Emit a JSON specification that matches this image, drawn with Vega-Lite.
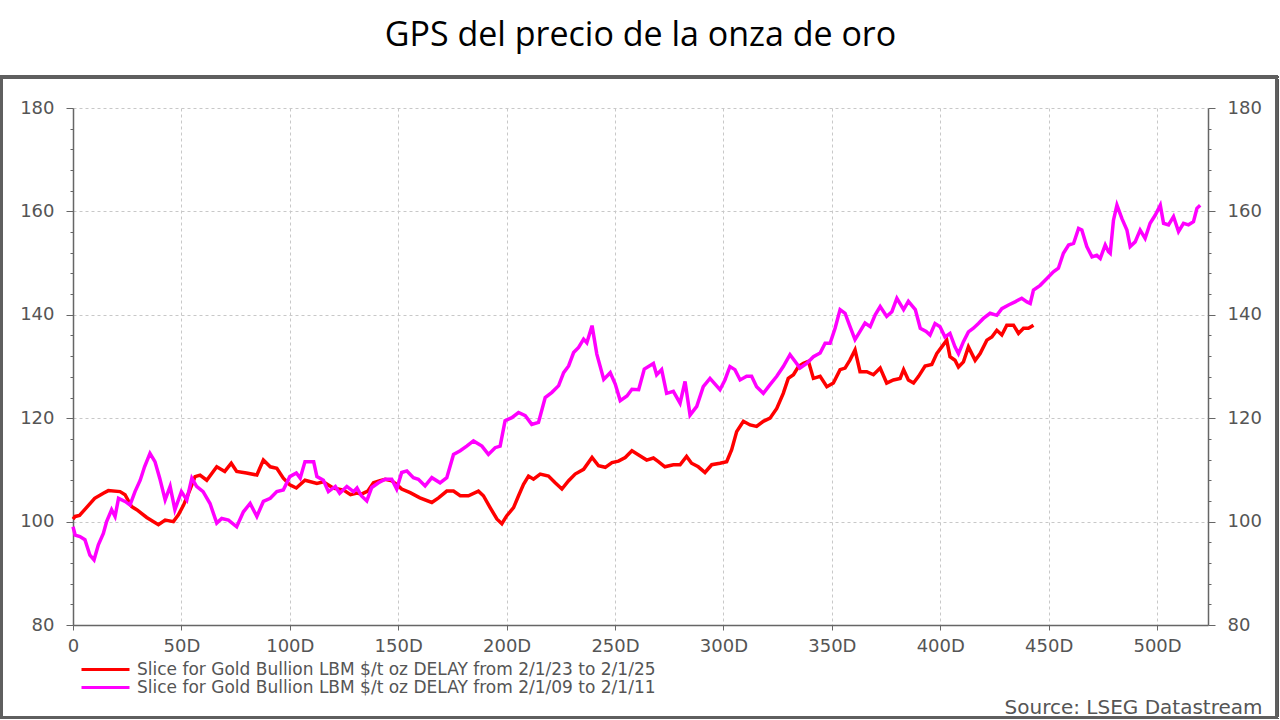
{
  "$schema": "https://vega.github.io/schema/vega-lite/v6.json",
  "width": 1135,
  "height": 517,
  "autosize": {"type": "none"},
  "padding": {"left": 73, "top": 108, "right": 72, "bottom": 95},
  "background": "white",
  "title": {
    "text": "GPS del precio de la onza de oro",
    "font": "Open Sans",
    "fontSize": 34,
    "fontWeight": "normal",
    "color": "#000000",
    "anchor": "middle",
    "frame": "group",
    "baseline": "alphabetic",
    "offset": 26,
    "dy": 31
  },
  "config": {
    "view": {"stroke": null},
    "axis": {
      "labelFont": "DejaVu Sans",
      "labelFontSize": 18,
      "labelColor": "#555555",
      "domainColor": "#666666",
      "domainWidth": 1.5,
      "tickColor": "#666666",
      "gridColor": "#c8c8c8",
      "gridDash": [3, 3]
    }
  },
  "data": {
    "values": [
      {"s": "A", "d": 0, "v": 100.5}, {"s": "A", "d": 1, "v": 101}, {"s": "A", "d": 3, "v": 101.2}, {"s": "A", "d": 6, "v": 102.6},
      {"s": "A", "d": 10, "v": 104.5}, {"s": "A", "d": 14, "v": 105.5}, {"s": "A", "d": 16.3, "v": 106}, {"s": "A", "d": 21.7, "v": 105.8},
      {"s": "A", "d": 24, "v": 105.2}, {"s": "A", "d": 27, "v": 102.9}, {"s": "A", "d": 29.4, "v": 102.3}, {"s": "A", "d": 34, "v": 100.8},
      {"s": "A", "d": 39.4, "v": 99.4}, {"s": "A", "d": 42.5, "v": 100.3}, {"s": "A", "d": 46.3, "v": 100}, {"s": "A", "d": 48.6, "v": 101.3},
      {"s": "A", "d": 51, "v": 103.2}, {"s": "A", "d": 53, "v": 105.2}, {"s": "A", "d": 56.3, "v": 108.7}, {"s": "A", "d": 58.6, "v": 109},
      {"s": "A", "d": 61.7, "v": 108}, {"s": "A", "d": 66.3, "v": 110.6}, {"s": "A", "d": 70, "v": 109.7}, {"s": "A", "d": 73, "v": 111.3},
      {"s": "A", "d": 75.5, "v": 109.7}, {"s": "A", "d": 80, "v": 109.4}, {"s": "A", "d": 84.8, "v": 109}, {"s": "A", "d": 87.8, "v": 111.9},
      {"s": "A", "d": 91, "v": 110.6}, {"s": "A", "d": 94, "v": 110.3}, {"s": "A", "d": 97, "v": 108.4}, {"s": "A", "d": 100, "v": 107.1},
      {"s": "A", "d": 103, "v": 106.5}, {"s": "A", "d": 107, "v": 108}, {"s": "A", "d": 112.5, "v": 107.4}, {"s": "A", "d": 115.5, "v": 107.7},
      {"s": "A", "d": 120, "v": 106.5}, {"s": "A", "d": 124.8, "v": 106.1}, {"s": "A", "d": 128, "v": 105.2}, {"s": "A", "d": 131, "v": 105.5},
      {"s": "A", "d": 133, "v": 105.3}, {"s": "A", "d": 136, "v": 105.9}, {"s": "A", "d": 138.6, "v": 107.5}, {"s": "A", "d": 141.6, "v": 107.9},
      {"s": "A", "d": 144, "v": 108.2}, {"s": "A", "d": 147, "v": 107.9}, {"s": "A", "d": 149.3, "v": 107.2}, {"s": "A", "d": 151.6, "v": 106.3},
      {"s": "A", "d": 155.5, "v": 105.6}, {"s": "A", "d": 160, "v": 104.6}, {"s": "A", "d": 165.5, "v": 103.7}, {"s": "A", "d": 168.6, "v": 104.6},
      {"s": "A", "d": 172.4, "v": 105.9}, {"s": "A", "d": 175.5, "v": 105.9}, {"s": "A", "d": 178.6, "v": 105}, {"s": "A", "d": 182.4, "v": 105},
      {"s": "A", "d": 187, "v": 105.9}, {"s": "A", "d": 189.3, "v": 105}, {"s": "A", "d": 192.4, "v": 102.7}, {"s": "A", "d": 195.5, "v": 100.5},
      {"s": "A", "d": 197.8, "v": 99.6}, {"s": "A", "d": 200, "v": 101.1}, {"s": "A", "d": 203.2, "v": 102.7}, {"s": "A", "d": 205.5, "v": 105},
      {"s": "A", "d": 207.8, "v": 107.2}, {"s": "A", "d": 210.1, "v": 108.8}, {"s": "A", "d": 212.4, "v": 108.2}, {"s": "A", "d": 215.5, "v": 109.2},
      {"s": "A", "d": 219.3, "v": 108.8}, {"s": "A", "d": 222.4, "v": 107.5}, {"s": "A", "d": 225.5, "v": 106.3}, {"s": "A", "d": 228.6, "v": 107.9},
      {"s": "A", "d": 231.6, "v": 109.2}, {"s": "A", "d": 235.5, "v": 110.1}, {"s": "A", "d": 239.4, "v": 112.4}, {"s": "A", "d": 242.4, "v": 110.8},
      {"s": "A", "d": 245.5, "v": 110.5}, {"s": "A", "d": 248.6, "v": 111.4}, {"s": "A", "d": 251.6, "v": 111.7}, {"s": "A", "d": 254.7, "v": 112.4},
      {"s": "A", "d": 257.8, "v": 113.7}, {"s": "A", "d": 260.9, "v": 112.9}, {"s": "A", "d": 264.6, "v": 111.9}, {"s": "A", "d": 267.7, "v": 112.3},
      {"s": "A", "d": 270, "v": 111.6}, {"s": "A", "d": 273, "v": 110.6}, {"s": "A", "d": 276.9, "v": 111}, {"s": "A", "d": 280, "v": 111},
      {"s": "A", "d": 283, "v": 112.6}, {"s": "A", "d": 285.3, "v": 111.3}, {"s": "A", "d": 288.4, "v": 110.6}, {"s": "A", "d": 291.5, "v": 109.5},
      {"s": "A", "d": 294.6, "v": 111}, {"s": "A", "d": 298.4, "v": 111.3}, {"s": "A", "d": 301.5, "v": 111.6}, {"s": "A", "d": 303.8, "v": 113.9},
      {"s": "A", "d": 306.1, "v": 117.4}, {"s": "A", "d": 309.2, "v": 119.4}, {"s": "A", "d": 312.3, "v": 118.7}, {"s": "A", "d": 315.3, "v": 118.4},
      {"s": "A", "d": 318.4, "v": 119.4}, {"s": "A", "d": 321.5, "v": 120}, {"s": "A", "d": 324.6, "v": 121.9}, {"s": "A", "d": 327.6, "v": 124.8},
      {"s": "A", "d": 329.9, "v": 127.7}, {"s": "A", "d": 332.3, "v": 128.4}, {"s": "A", "d": 334.6, "v": 130}, {"s": "A", "d": 336.9, "v": 130.6},
      {"s": "A", "d": 339.2, "v": 131}, {"s": "A", "d": 341.5, "v": 127.7}, {"s": "A", "d": 344.6, "v": 128.1}, {"s": "A", "d": 347.7, "v": 126.1},
      {"s": "A", "d": 350.7, "v": 126.8}, {"s": "A", "d": 353.8, "v": 129.4}, {"s": "A", "d": 356.1, "v": 129.7}, {"s": "A", "d": 358.4, "v": 131.3},
      {"s": "A", "d": 360.7, "v": 133.2}, {"s": "A", "d": 363, "v": 129}, {"s": "A", "d": 366.1, "v": 129}, {"s": "A", "d": 369.2, "v": 128.4},
      {"s": "A", "d": 372.3, "v": 129.7}, {"s": "A", "d": 375.3, "v": 126.8}, {"s": "A", "d": 378.4, "v": 127.4}, {"s": "A", "d": 381.5, "v": 127.7},
      {"s": "A", "d": 383.1, "v": 129.4}, {"s": "A", "d": 385.3, "v": 127.4}, {"s": "A", "d": 387.7, "v": 126.8}, {"s": "A", "d": 390, "v": 128.1},
      {"s": "A", "d": 393, "v": 130.1}, {"s": "A", "d": 396.1, "v": 130.4}, {"s": "A", "d": 398.4, "v": 132.5}, {"s": "A", "d": 400.7, "v": 133.8},
      {"s": "A", "d": 403, "v": 135.1}, {"s": "A", "d": 404.5, "v": 131.9}, {"s": "A", "d": 406.8, "v": 131.2}, {"s": "A", "d": 408.4, "v": 129.9},
      {"s": "A", "d": 410.7, "v": 130.9}, {"s": "A", "d": 413, "v": 133.8}, {"s": "A", "d": 416.1, "v": 131.2}, {"s": "A", "d": 418.4, "v": 132.5},
      {"s": "A", "d": 421.5, "v": 135.1}, {"s": "A", "d": 423.8, "v": 135.7}, {"s": "A", "d": 426.1, "v": 137}, {"s": "A", "d": 428.4, "v": 136.1},
      {"s": "A", "d": 430.7, "v": 138}, {"s": "A", "d": 433.8, "v": 138}, {"s": "A", "d": 436.1, "v": 136.4}, {"s": "A", "d": 438.4, "v": 137.4},
      {"s": "A", "d": 440.7, "v": 137.4}, {"s": "A", "d": 443, "v": 138},

      {"s": "B", "d": 0, "v": 99}, {"s": "B", "d": 1, "v": 97.4}, {"s": "B", "d": 3.2, "v": 97.1}, {"s": "B", "d": 5.5, "v": 96.5},
      {"s": "B", "d": 7.8, "v": 93.5}, {"s": "B", "d": 9.7, "v": 92.6}, {"s": "B", "d": 11.7, "v": 95.5}, {"s": "B", "d": 14, "v": 97.7},
      {"s": "B", "d": 15.5, "v": 100}, {"s": "B", "d": 17.8, "v": 102.3}, {"s": "B", "d": 19.4, "v": 101}, {"s": "B", "d": 21, "v": 104.5},
      {"s": "B", "d": 24, "v": 103.9}, {"s": "B", "d": 26.3, "v": 103.2}, {"s": "B", "d": 28.6, "v": 105.8}, {"s": "B", "d": 31, "v": 108},
      {"s": "B", "d": 33, "v": 110.6}, {"s": "B", "d": 35.5, "v": 113.2}, {"s": "B", "d": 37.8, "v": 111.6}, {"s": "B", "d": 40, "v": 108.4},
      {"s": "B", "d": 42.5, "v": 104.2}, {"s": "B", "d": 44.8, "v": 106.8}, {"s": "B", "d": 47, "v": 102.3}, {"s": "B", "d": 50, "v": 105.8},
      {"s": "B", "d": 52.5, "v": 104.2}, {"s": "B", "d": 54.8, "v": 108.4}, {"s": "B", "d": 57, "v": 106.8}, {"s": "B", "d": 60, "v": 105.8},
      {"s": "B", "d": 63.2, "v": 103.5}, {"s": "B", "d": 66.3, "v": 99.7}, {"s": "B", "d": 68.6, "v": 100.6}, {"s": "B", "d": 71.7, "v": 100.3},
      {"s": "B", "d": 75.5, "v": 99}, {"s": "B", "d": 78.6, "v": 101.9}, {"s": "B", "d": 81.7, "v": 103.5}, {"s": "B", "d": 84.8, "v": 101},
      {"s": "B", "d": 87.8, "v": 103.9}, {"s": "B", "d": 91, "v": 104.5}, {"s": "B", "d": 94, "v": 105.8}, {"s": "B", "d": 97, "v": 106.1},
      {"s": "B", "d": 100, "v": 108.7}, {"s": "B", "d": 103, "v": 109.4}, {"s": "B", "d": 104.8, "v": 108.4}, {"s": "B", "d": 107, "v": 111.6},
      {"s": "B", "d": 111, "v": 111.6}, {"s": "B", "d": 112.5, "v": 108.7}, {"s": "B", "d": 115.5, "v": 108}, {"s": "B", "d": 117.8, "v": 105.8},
      {"s": "B", "d": 121, "v": 106.8}, {"s": "B", "d": 123, "v": 105.5}, {"s": "B", "d": 126.3, "v": 106.8}, {"s": "B", "d": 129.4, "v": 105.8},
      {"s": "B", "d": 131, "v": 106.5}, {"s": "B", "d": 133, "v": 105}, {"s": "B", "d": 135.5, "v": 104}, {"s": "B", "d": 137.8, "v": 106.6},
      {"s": "B", "d": 140.9, "v": 107.5}, {"s": "B", "d": 144, "v": 108.2}, {"s": "B", "d": 147, "v": 108.2}, {"s": "B", "d": 149.3, "v": 106.3},
      {"s": "B", "d": 151.6, "v": 109.5}, {"s": "B", "d": 154, "v": 109.8}, {"s": "B", "d": 157, "v": 108.5}, {"s": "B", "d": 159.3, "v": 108.2},
      {"s": "B", "d": 162.4, "v": 106.9}, {"s": "B", "d": 165.5, "v": 108.5}, {"s": "B", "d": 169.3, "v": 107.5}, {"s": "B", "d": 172.4, "v": 108.5},
      {"s": "B", "d": 175.5, "v": 113}, {"s": "B", "d": 178.6, "v": 113.7}, {"s": "B", "d": 181.6, "v": 114.6}, {"s": "B", "d": 184.7, "v": 115.6},
      {"s": "B", "d": 188.6, "v": 114.6}, {"s": "B", "d": 191.6, "v": 113}, {"s": "B", "d": 194.7, "v": 114.3}, {"s": "B", "d": 197, "v": 114.6},
      {"s": "B", "d": 199.3, "v": 119.5}, {"s": "B", "d": 202.4, "v": 120.1}, {"s": "B", "d": 205.5, "v": 121.1}, {"s": "B", "d": 208.6, "v": 120.5},
      {"s": "B", "d": 211.6, "v": 118.8}, {"s": "B", "d": 214.7, "v": 119.2}, {"s": "B", "d": 217.8, "v": 124}, {"s": "B", "d": 220.9, "v": 125},
      {"s": "B", "d": 224, "v": 126.3}, {"s": "B", "d": 226.3, "v": 128.8}, {"s": "B", "d": 228.6, "v": 130.1}, {"s": "B", "d": 230.9, "v": 132.7},
      {"s": "B", "d": 233.2, "v": 133.7}, {"s": "B", "d": 235.5, "v": 135.3}, {"s": "B", "d": 237, "v": 134.6}, {"s": "B", "d": 239.4, "v": 137.9},
      {"s": "B", "d": 241.6, "v": 132.4}, {"s": "B", "d": 244.8, "v": 127.5}, {"s": "B", "d": 247.8, "v": 128.8}, {"s": "B", "d": 250.1, "v": 126.6},
      {"s": "B", "d": 252.4, "v": 123.4}, {"s": "B", "d": 255.5, "v": 124.3}, {"s": "B", "d": 257.8, "v": 125.6}, {"s": "B", "d": 260.9, "v": 125.5},
      {"s": "B", "d": 263.5, "v": 129.5}, {"s": "B", "d": 267.7, "v": 130.6}, {"s": "B", "d": 269.2, "v": 128.4}, {"s": "B", "d": 271.5, "v": 129.4},
      {"s": "B", "d": 273.8, "v": 124.8}, {"s": "B", "d": 276.9, "v": 125.2}, {"s": "B", "d": 280, "v": 122.9}, {"s": "B", "d": 282.3, "v": 127.1},
      {"s": "B", "d": 284.6, "v": 120.6}, {"s": "B", "d": 287.7, "v": 122.3}, {"s": "B", "d": 290.7, "v": 126.1}, {"s": "B", "d": 293.8, "v": 127.7},
      {"s": "B", "d": 298.4, "v": 125.5}, {"s": "B", "d": 300.7, "v": 127.4}, {"s": "B", "d": 303, "v": 130}, {"s": "B", "d": 305.3, "v": 129.4},
      {"s": "B", "d": 307.7, "v": 127.4}, {"s": "B", "d": 310.7, "v": 128.1}, {"s": "B", "d": 313, "v": 128.1}, {"s": "B", "d": 315.3, "v": 126.1},
      {"s": "B", "d": 318.4, "v": 124.8}, {"s": "B", "d": 321.5, "v": 126.5}, {"s": "B", "d": 324.6, "v": 128.1}, {"s": "B", "d": 327.6, "v": 130},
      {"s": "B", "d": 330.7, "v": 132.3}, {"s": "B", "d": 333, "v": 131}, {"s": "B", "d": 335.3, "v": 129.7}, {"s": "B", "d": 338.4, "v": 130.6},
      {"s": "B", "d": 341.5, "v": 131.9}, {"s": "B", "d": 344.6, "v": 132.6}, {"s": "B", "d": 346.9, "v": 134.5}, {"s": "B", "d": 349.2, "v": 134.5},
      {"s": "B", "d": 351.5, "v": 137.4}, {"s": "B", "d": 353.8, "v": 141}, {"s": "B", "d": 356.1, "v": 140.3}, {"s": "B", "d": 358.4, "v": 137.7},
      {"s": "B", "d": 360.7, "v": 135.2}, {"s": "B", "d": 363, "v": 136.8}, {"s": "B", "d": 365.3, "v": 138.4}, {"s": "B", "d": 367.7, "v": 137.7},
      {"s": "B", "d": 370, "v": 140}, {"s": "B", "d": 372.3, "v": 141.6}, {"s": "B", "d": 375.3, "v": 139.7}, {"s": "B", "d": 377.7, "v": 140.6},
      {"s": "B", "d": 380, "v": 143.2}, {"s": "B", "d": 383.1, "v": 141}, {"s": "B", "d": 385.3, "v": 142.6}, {"s": "B", "d": 388.5, "v": 141},
      {"s": "B", "d": 390.8, "v": 137.4}, {"s": "B", "d": 393.5, "v": 136.8}, {"s": "B", "d": 395.3, "v": 136.1}, {"s": "B", "d": 397.6, "v": 138.3},
      {"s": "B", "d": 399.9, "v": 137.7}, {"s": "B", "d": 402.2, "v": 135.7}, {"s": "B", "d": 404.5, "v": 136.4}, {"s": "B", "d": 406.8, "v": 133.8},
      {"s": "B", "d": 408.4, "v": 132.5}, {"s": "B", "d": 410.7, "v": 134.8}, {"s": "B", "d": 413, "v": 136.7}, {"s": "B", "d": 415.3, "v": 137.4},
      {"s": "B", "d": 417.6, "v": 138.3}, {"s": "B", "d": 419.9, "v": 139.3}, {"s": "B", "d": 423, "v": 140.3}, {"s": "B", "d": 426.1, "v": 139.9},
      {"s": "B", "d": 428.4, "v": 141.2}, {"s": "B", "d": 431.5, "v": 141.9}, {"s": "B", "d": 434.5, "v": 142.5}, {"s": "B", "d": 437.6, "v": 143.2},
      {"s": "B", "d": 440, "v": 142.5}, {"s": "B", "d": 441.5, "v": 142.2}, {"s": "B", "d": 443, "v": 144.8}, {"s": "B", "d": 446.1, "v": 145.7},
      {"s": "B", "d": 449.2, "v": 147}, {"s": "B", "d": 452.2, "v": 148.3}, {"s": "B", "d": 454.5, "v": 149}, {"s": "B", "d": 456.8, "v": 151.9},
      {"s": "B", "d": 459.2, "v": 153.5}, {"s": "B", "d": 461.5, "v": 153.8}, {"s": "B", "d": 463.8, "v": 156.7}, {"s": "B", "d": 465.3, "v": 156.4},
      {"s": "B", "d": 467.6, "v": 153.2}, {"s": "B", "d": 470, "v": 151.2}, {"s": "B", "d": 472.2, "v": 151.5}, {"s": "B", "d": 473.8, "v": 150.9},
      {"s": "B", "d": 476.1, "v": 153.5}, {"s": "B", "d": 477.6, "v": 152.2}, {"s": "B", "d": 478.4, "v": 151.9}, {"s": "B", "d": 479.9, "v": 158.3},
      {"s": "B", "d": 481.5, "v": 161.2}, {"s": "B", "d": 483.8, "v": 158.6}, {"s": "B", "d": 486.1, "v": 156.4}, {"s": "B", "d": 487.6, "v": 153.2},
      {"s": "B", "d": 489.9, "v": 154.1}, {"s": "B", "d": 492.2, "v": 156.4}, {"s": "B", "d": 494.5, "v": 154.8}, {"s": "B", "d": 496.8, "v": 157.7},
      {"s": "B", "d": 499.2, "v": 159.3}, {"s": "B", "d": 501.5, "v": 161.2}, {"s": "B", "d": 503, "v": 157.7}, {"s": "B", "d": 505.3, "v": 157.4},
      {"s": "B", "d": 507.6, "v": 159}, {"s": "B", "d": 509.9, "v": 156.1}, {"s": "B", "d": 512.2, "v": 157.7}, {"s": "B", "d": 514.5, "v": 157.4},
      {"s": "B", "d": 516.8, "v": 158}, {"s": "B", "d": 518.4, "v": 160.6}, {"s": "B", "d": 519.9, "v": 161.2}
    ]
  },
  "layer": [
    {
      "mark": {"type": "rect", "fillOpacity": 0, "stroke": "#5f5f5f", "strokeWidth": 3, "clip": false},
      "encoding": {
        "x": {"datum": -33, "type": "quantitative", "scale": {"domain": [0, 523.5], "nice": false, "zero": false}, "axis": null},
        "x2": {"datum": 555.1},
        "y": {"datum": 62.1, "type": "quantitative", "scale": {"domain": [80, 180], "nice": false, "zero": false}, "axis": null},
        "y2": {"datum": 186}
      }
    },
    {
      "mark": {"type": "line", "strokeWidth": 3, "strokeOpacity": 0},
      "encoding": {
        "x": {"field": "d", "type": "quantitative", "scale": {"domain": [0, 523.5], "nice": false, "zero": false}, "axis": null},
        "y": {
          "field": "v", "type": "quantitative",
          "scale": {"domain": [80, 180], "nice": false, "zero": false},
          "axis": {
            "orient": "right",
            "title": null,
            "grid": false,
            "values": [80, 84, 88, 92, 96, 100, 104, 108, 112, 116, 120, 124, 128, 132, 136, 140, 144, 148, 152, 156, 160, 164, 168, 172, 176, 180],
            "labelExpr": "datum.value % 20 === 0 ? datum.label : ''",
            "tickSize": {"condition": {"test": "datum.value % 20 === 0", "value": 7}, "value": 3},
            "labelPadding": 12
          }
        },
        "detail": {"field": "s", "type": "nominal"}
      }
    },
    {
      "mark": {"type": "line", "strokeWidth": 3.5},
      "encoding": {
        "x": {
          "field": "d", "type": "quantitative",
          "scale": {"domain": [0, 523.5], "nice": false, "zero": false},
          "axis": {
            "values": [0, 50, 100, 150, 200, 250, 300, 350, 400, 450, 500],
            "labelExpr": "datum.value == 0 ? '0' : datum.value + 'D'",
            "grid": true,
            "tickSize": 5,
            "labelPadding": 7,
            "labelFlush": false,
            "title": "Source: LSEG Datastream",
            "titleX": 1189,
            "titleY": 88,
            "titleAlign": "right",
            "titleBaseline": "alphabetic",
            "titleFont": "DejaVu Sans",
            "titleFontSize": 20,
            "titleFontWeight": "normal",
            "titleColor": "#555555"
          }
        },
        "y": {
          "field": "v", "type": "quantitative",
          "scale": {"domain": [80, 180], "nice": false, "zero": false},
          "axis": {
            "orient": "left",
            "title": null,
            "grid": true,
            "gridOpacity": {"condition": {"test": "datum.value % 20 === 0", "value": 1}, "value": 0},
            "values": [80, 84, 88, 92, 96, 100, 104, 108, 112, 116, 120, 124, 128, 132, 136, 140, 144, 148, 152, 156, 160, 164, 168, 172, 176, 180],
            "labelExpr": "datum.value % 20 === 0 ? datum.label : ''",
            "tickSize": {"condition": {"test": "datum.value % 20 === 0", "value": 7}, "value": 3},
            "labelPadding": 12
          }
        },
        "color": {
          "field": "s", "type": "nominal",
          "scale": {"domain": ["A", "B"], "range": ["#ff0000", "#ff00ff"]},
          "legend": {
            "orient": "none",
            "legendX": 23,
            "legendY": 552,
            "title": null,
            "padding": 0,
            "symbolType": "M-3,0H3",
            "symbolSize": 256,
            "symbolStrokeWidth": 3,
            "labelFont": "DejaVu Sans",
            "labelFontSize": 17,
            "labelColor": "#555555",
            "labelLimit": 900,
            "labelOffset": 22,
            "rowPadding": -2,
            "labelExpr": "datum.label == 'A' ? 'Slice for Gold Bullion LBM $/t oz DELAY from 2/1/23 to 2/1/25' : 'Slice for Gold Bullion LBM $/t oz DELAY from 2/1/09 to 2/1/11'"
          }
        }
      }
    }
  ],
  "resolve": {"axis": {"x": "independent", "y": "independent"}}
}
